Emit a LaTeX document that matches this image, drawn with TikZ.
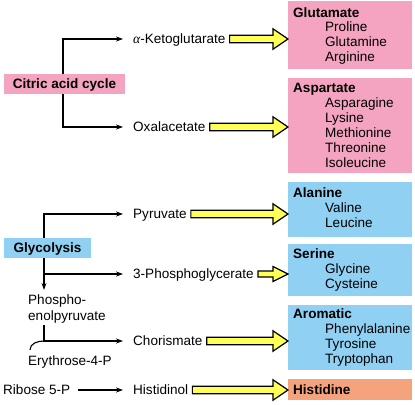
\documentclass[tikz,border=0pt]{standalone}
\usepackage{fontspec}
\setmainfont{Liberation Sans}
\newfontfamily\greekserif{Liberation Serif}
\usetikzlibrary{arrows.meta,calc,backgrounds}
\definecolor{boxpink}{RGB}{244,164,192}
\definecolor{boxblue}{RGB}{143,208,243}
\definecolor{boxsalmon}{RGB}{245,163,125}
\definecolor{arrowyellow}{RGB}{255,255,85}
\tikzset{
  lbl/.style={inner sep=0pt, anchor=west, font=\fontsize{13.6}{15}\selectfont, text height=9.8bp, text depth=0pt},
  ttl/.style={lbl, font=\fontsize{13.6}{15}\selectfont\bfseries},
  rbox/.style={inner sep=0pt, anchor=north west, minimum width=124bp},
  lbox/.style={inner sep=0pt, minimum height=20bp, font=\fontsize{13.6}{15}\selectfont\bfseries, text height=9.8bp, text depth=0pt},
  conn/.style={line width=1.1bp, -{Stealth[length=7bp,width=5bp]}},
  plain/.style={line width=1.1bp},
  fat/.style={fill=arrowyellow, draw=black, line width=1.2bp, line join=miter},
}
% #1 start node, #2 end node, #3 shaft half width, #4 head half width, #5 head length
\newcommand\yellowarrow[5]{%
  \draw[fat] let \p1=($(#1.east)+(4,0)$), \p2=(#2.west) in
    (\x1,\y1+#3bp) -- (\x2-#5bp,\y1+#3bp) -- (\x2-#5bp,\y1+#4bp) -- (\x2,\y1)
    -- (\x2-#5bp,\y1-#4bp) -- (\x2-#5bp,\y1-#3bp) -- (\x1,\y1-#3bp) -- cycle;}
\begin{document}
\begin{tikzpicture}[x=1bp,y=-1bp]
\useasboundingbox (0,0) rectangle (415,405);

% left boxes
\node[lbox, fill=boxpink, minimum width=121bp] (cac) at (64.5,84) {Citric acid cycle};
\node[lbox, fill=boxblue, minimum width=87bp] (gly) at (47.5,248) {Glycolysis};
\coordinate (cx) at ([xshift=-1.5bp]cac.center);
\coordinate (gx) at ([xshift=-3.5bp]gly.center);

% intermediates
\node[lbl] (akg) at (133,39) {{\greekserif\itshape α}-Ketoglutarate};
\node[lbl] (oxa) at (133,127) {Oxalacetate};
\node[lbl] (pyr) at (133,214) {Pyruvate};
\node[lbl] (pg) at (133,274) {3-Phosphoglycerate};
\node[lbl] (pep1) at (28,300) {Phospho-};
\node[lbl] (pep2) at (28,316) {enolpyruvate};
\node[lbl] (cho) at (133,341) {Chorismate};
\node[lbl] (ery) at (28,361) {Erythrose-4-P};
\node[lbl] (rib) at (3,390) {Ribose 5-P};
\node[lbl] (hsl) at (133,390) {Histidinol};

% right boxes
\node[rbox, fill=boxpink, minimum height=68bp] (glu) at (288,1) {};
\node[ttl] (glut) at (293,13) {Glutamate};
\foreach \t [count=\i] in {Proline,Glutamine,Arginine}
  \node[lbl] (glu\i) at (325,12+15*\i) {\t};

\node[rbox, fill=boxpink, minimum height=95bp] (asp) at (288,78) {};
\node[ttl] (aspt) at (293,88) {Aspartate};
\foreach \t [count=\i] in {Asparagine,Lysine,Methionine,Threonine,Isoleucine}
  \node[lbl] (asp\i) at (325,88+15*\i) {\t};

\node[rbox, fill=boxblue, minimum height=55bp] (ala) at (288,182) {};
\node[ttl] (alat) at (293,193) {Alanine};
\foreach \t [count=\i] in {Valine,Leucine}
  \node[lbl] (ala\i) at (325,193+15*\i) {\t};

\node[rbox, fill=boxblue, minimum height=52bp] (ser) at (288,244) {};
\node[ttl] (sert) at (293,254) {Serine};
\foreach \t [count=\i] in {Glycine,Cysteine}
  \node[lbl] (ser\i) at (325,254+15*\i) {\t};

\node[rbox, fill=boxblue, minimum height=65bp] (aro) at (288,305) {};
\node[ttl] (arot) at (293,314) {Aromatic};
\foreach \t [count=\i] in {Phenylalanine,Tyrosine,Tryptophan}
  \node[lbl] (aro\i) at (325,314+15*\i) {\t};

\node[rbox, fill=boxsalmon, minimum height=21bp] (hisbox) at (288,379) {};
\node[ttl] (hist) at (293,390) {Histidine};

% thin connectors
\begin{pgfonlayer}{background}
\draw[conn, shorten >=10bp] (cx) |- (akg.west);
\draw[conn, shorten >=10bp] (cx) |- (oxa.west);
\draw[conn, shorten >=10bp] (gx) |- (pyr.west);
\draw[conn, shorten >=10bp] (gx) |- (pg.west);
\draw[conn, shorten >=5bp] (gx) -- (gx |- pep1.north);
\end{pgfonlayer}
\draw[conn, shorten >=10bp] ($(gx |- pep2.south)+(0,4)$) |- (cho.west);
\draw[plain] ($(ery.north west)+(2,-6)$) to[out=90,in=180] (gx |- cho.west);
\draw[conn, shorten <=8bp, shorten >=10bp] (rib.east) -- (hsl.west);

% yellow arrows
\yellowarrow{akg}{glu}{3.8}{10.2}{15}
\yellowarrow{oxa}{asp}{3.8}{10.2}{15}
\yellowarrow{pyr}{ala}{3.8}{10.2}{15}
\yellowarrow{pg}{ser}{3}{7.5}{15}
\yellowarrow{cho}{aro}{3.8}{10.2}{15}
\yellowarrow{hsl}{hisbox}{3.8}{10.2}{15}
\end{tikzpicture}
\end{document}
